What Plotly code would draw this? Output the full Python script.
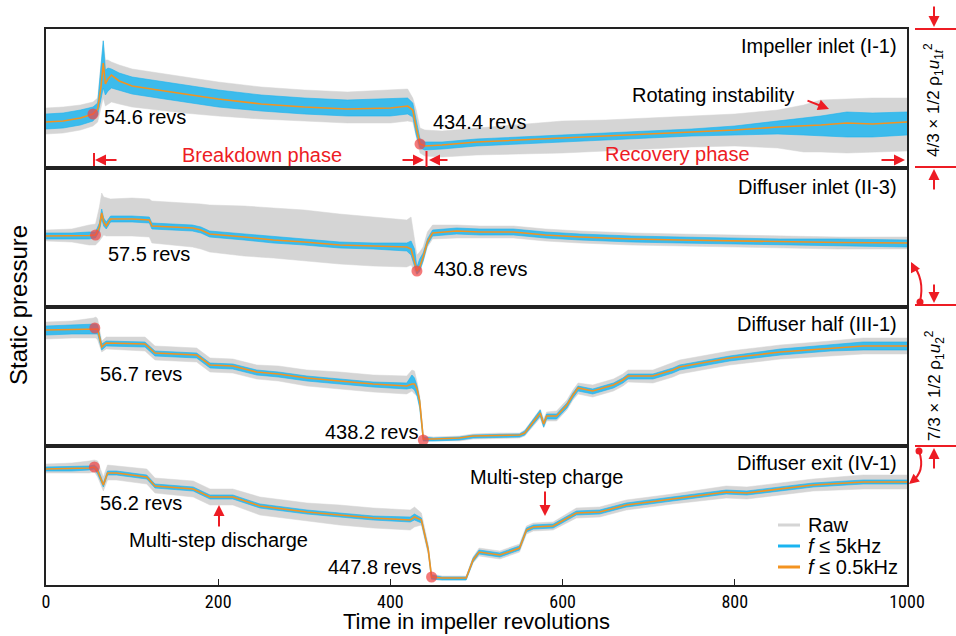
import plotly.graph_objects as go
from plotly.subplots import make_subplots

# ---------------- data (values = static pressure, arbitrary panel units) ----------------
# Panel 1: Impeller inlet (I-1)
p1_x = [0, 20, 40, 54.6, 60, 64, 66.5, 69, 72, 76, 85, 100, 130, 160, 200, 250, 300, 350, 400, 420,
        426, 430, 434.4, 440, 460, 500, 550, 600, 650, 700, 750, 800, 850, 880, 900, 930, 960, 1000]
p1_f05 = [46, 47, 50, 54, 59, 82, 105, 84, 89, 93, 87, 82, 78, 74, 69, 64, 61, 59, 60, 62,
          58, 40, 24, 22, 23, 26, 28, 30, 32, 34, 36, 38, 41, 42, 43, 45, 44, 46]
p1_f5_hi = [54, 55, 58, 61, 65, 100, 127, 98, 100, 99, 95, 91, 87, 83, 78, 73, 70, 68, 69, 70,
            65, 49, 29, 26, 26, 29, 31, 33, 35, 37, 39, 42, 47, 50, 52, 56, 55, 56]
p1_f5_lo = [39, 40, 43, 47, 53, 70, 80, 73, 77, 80, 78, 74, 70, 66, 61, 57, 54, 52, 52, 54,
            51, 33, 20, 18, 19, 22, 24, 26, 28, 30, 32, 33, 34, 33, 32, 31, 31, 33]
p1_raw_hi = [60, 61, 63, 66, 70, 105, 128, 108, 108, 106, 103, 99, 95, 91, 86, 81, 78, 76, 78, 79,
             70, 58, 40, 38, 37, 40, 43, 47, 48, 50, 52, 54, 58, 63, 68, 69, 70, 70]
p1_raw_lo = [34, 35, 38, 42, 46, 62, 70, 62, 64, 66, 64, 61, 58, 55, 52, 49, 47, 45, 45, 47,
             46, 30, 15, 12, 11, 13, 14, 15, 17, 19, 21, 22, 20, 16, 16, 15, 16, 17]
p1_evt_x = [54.6, 434.4]
p1_evt_y = [54, 24]

# Panel 2: Diffuser inlet (II-3)
p2_x = [0, 30, 50, 57.5, 62, 64.7, 67, 70, 75, 100, 120, 123, 170, 180, 190, 230, 264, 300, 341, 380,
        419, 424, 428, 430.8, 434, 438, 443, 449, 477, 504, 543, 580, 620, 680, 736, 800, 853, 920, 1000]
p2_f05 = [71, 71, 71.5, 72, 80, 94, 85, 81, 88, 88, 87, 81, 79, 77, 73, 70, 67, 65, 62, 61,
          60, 58, 45, 36, 40, 50, 65, 74, 76, 75, 75, 72, 70, 68, 67, 66, 65, 64.5, 64]
p2_f5_hi = [74, 74, 75, 75, 84, 98, 89, 85, 91, 91, 90, 84, 82, 80, 76, 73, 70, 68, 65, 64,
            64, 66, 58, 40, 48, 54, 68, 77, 79, 78, 78, 75, 73, 71, 70, 69, 68, 68, 67]
p2_f5_lo = [68, 68, 68, 69, 76, 88, 81, 78, 85, 85, 84, 78, 76, 74, 70, 67, 64, 62, 59, 58,
            56, 52, 40, 33, 36, 46, 62, 71, 73, 72, 72, 69, 67, 65, 64, 63, 62, 61, 60]
p2_raw_hi = [77, 78, 82, 83, 100, 114, 110, 109, 108, 109, 108, 106, 104, 103, 102, 101, 99, 97, 93, 90,
             87, 90, 70, 52, 55, 60, 75, 82, 82, 81, 81, 78, 76, 74, 73, 72, 71, 70, 70]
p2_raw_lo = [66, 65, 62, 62, 66, 70, 72, 71, 71, 71, 70, 64, 60, 58, 55, 51, 49, 46, 43, 41,
             40, 42, 36, 32, 35, 45, 60, 68, 69, 69, 69, 66, 64, 62, 61, 60, 59, 58, 58]
p2_evt_x = [57.5, 430.8]
p2_evt_y = [72, 36]

# Panel 3: Diffuser half (III-1)
p3_x = [0, 30, 55, 58, 60, 64.7, 70, 115, 126.6, 175, 190.5, 217, 244.7, 270, 303, 341, 380, 419, 425, 428,
        431, 434, 438.2, 450, 480, 496, 527, 550, 556, 566, 574, 578, 581.5, 593, 605, 612, 618, 635, 659, 670,
        676, 705, 728, 736, 794, 853, 911, 949, 1000]
p3_f05 = [116, 116.5, 117, 117.5, 117, 99, 103, 102, 93, 91, 81, 80, 74, 72, 68, 65, 62, 60, 62, 62,
          57, 45, 7, 7, 8, 10, 11, 11, 13, 24, 33, 22, 30, 30, 41, 51, 58, 55, 61, 66,
          70, 70, 76, 79, 88, 94, 98, 100, 100]
p3_f5_hi = [120, 121, 122, 122, 121, 102, 105, 104, 95, 93, 83, 82, 76, 74, 70, 67, 64, 63, 71, 68,
            60, 47, 9, 8, 9, 11, 12, 12, 15, 26, 36, 24, 32, 32, 43, 53, 60, 57, 63, 68,
            72, 72, 78, 81, 90, 97, 101, 104, 104]
p3_f5_lo = [111, 112, 112, 112, 112, 96, 100, 99, 90, 88, 78, 77, 71, 69, 65, 62, 59, 57, 58, 56,
            50, 38, 5, 5, 6, 8, 9, 9, 11, 21, 30, 19, 27, 27, 38, 48, 55, 52, 58, 63,
            67, 67, 73, 76, 85, 91, 95, 96, 96]
p3_raw_hi = [124, 125, 128, 129, 127, 105, 109, 109, 100, 98, 88, 87, 81, 80, 76, 74, 71, 70, 76, 75,
             64, 50, 10, 9, 10, 12, 13, 13, 16, 28, 37, 27, 34, 35, 46, 56, 63, 61, 67, 72,
             76, 76, 83, 86, 95, 101, 105, 108, 108]
p3_raw_lo = [107, 108, 108, 108, 106, 94, 97, 95, 86, 84, 74, 73, 67, 65, 60, 57, 54, 52, 55, 52,
             50, 40, 5, 5, 5, 7, 8, 8, 10, 20, 28, 18, 25, 25, 36, 46, 52, 49, 55, 60,
             64, 63, 69, 72, 81, 87, 90, 92, 92]
p3_evt_x = [56.7, 438.2]
p3_evt_y = [118, 6]

# Panel 4: Diffuser exit (IV-1)
p4_x = [0, 30, 50, 56.2, 60, 66.6, 71.5, 82, 117, 126.6, 171, 190.5, 217, 248.5, 303, 341, 380, 423, 428, 436,
        444, 447.8, 460, 488, 496, 503, 527, 550, 558, 566, 589, 616, 643, 674, 728, 790, 814, 891, 949, 1000]
p4_f05 = [116, 116.5, 117, 118, 114, 100, 112, 112, 108, 99, 96, 88, 88, 79, 73, 70, 67, 65, 68, 65,
          35, 8, 7, 7, 25, 33, 30, 37, 55, 58, 59, 72, 73, 80, 86, 93, 92, 100, 103, 103]
p4_f5_hi = [118, 119, 119, 120, 117, 102, 114, 114, 110, 101, 98, 90, 90, 81, 75, 72, 69, 68, 71, 67,
            37, 10, 8, 8, 27, 35, 32, 39, 57, 60, 61, 74, 75, 82, 88, 95, 94, 102, 105, 105]
p4_f5_lo = [114, 114, 115, 116, 111, 98, 110, 110, 106, 97, 94, 86, 86, 77, 71, 68, 65, 63, 65, 62,
            33, 6, 5, 5, 23, 31, 28, 35, 53, 56, 57, 70, 71, 78, 84, 91, 90, 98, 101, 101]
p4_raw_hi = [121, 122, 124, 125, 124, 108, 120, 119, 116, 107, 104, 96, 96, 88, 82, 80, 77, 75, 78, 72,
             40, 11, 9, 9, 28, 37, 34, 41, 59, 62, 63, 77, 78, 85, 91, 99, 98, 106, 110, 110]
p4_raw_lo = [112, 112, 112, 113, 108, 94, 105, 105, 101, 92, 88, 80, 80, 70, 64, 60, 57, 55, 58, 60,
             30, 5, 5, 5, 22, 29, 26, 33, 51, 54, 55, 67, 68, 75, 81, 87, 86, 94, 96, 96]
p4_evt_x = [56.2, 447.8]
p4_evt_y = [118, 8]

panel_titles = ["Impeller inlet (I-1)", "Diffuser inlet (II-3)", "Diffuser half (III-1)", "Diffuser exit (IV-1)"]
x_ticks = [0, 200, 400, 600, 800, 1000]
legend_labels = ["Raw", "<i>f</i> ≤ 5kHz", "<i>f</i> ≤ 0.5kHz"]
x_title = "Time in impeller revolutions"
y_title = "Static pressure"

# ---------------- figure ----------------
W, H = 956, 636
ML, MR, MT, MB = 46, 49, 29, 51
PW = W - ML - MR
PH = H - MT - MB


def PX(px):
    return (px - ML) / PW


def PY(py):
    return (H - MB - py) / PH


FONT = "Arial, Liberation Sans, sans-serif"
NARROW = "Liberation Sans Narrow, Arial Narrow, Roboto Condensed, Arial, sans-serif"
RED = "rgb(237,28,36)"
GRAY = "#d5d5d5"
BLUE = "#1ab4f0"
BLUE_FILL = "rgba(26,180,240,0.82)"
ORANGE = "#f39320"
DOT = "rgba(240,70,70,0.72)"

panels = [
    (p1_x, p1_raw_lo, p1_raw_hi, p1_f5_lo, p1_f5_hi, p1_f05, p1_evt_x, p1_evt_y),
    (p2_x, p2_raw_lo, p2_raw_hi, p2_f5_lo, p2_f5_hi, p2_f05, p2_evt_x, p2_evt_y),
    (p3_x, p3_raw_lo, p3_raw_hi, p3_f5_lo, p3_f5_hi, p3_f05, p3_evt_x, p3_evt_y),
    (p4_x, p4_raw_lo, p4_raw_hi, p4_f5_lo, p4_f5_hi, p4_f05, p4_evt_x, p4_evt_y),
]

fig = make_subplots(rows=4, cols=1, shared_xaxes=True, vertical_spacing=0)

for i, (x, rlo, rhi, blo, bhi, f05, ex, ey) in enumerate(panels, start=1):
    fig.add_trace(go.Scatter(x=x, y=rlo, mode="lines", line=dict(width=0.5, color=GRAY),
                             showlegend=False, hoverinfo="skip"), row=i, col=1)
    fig.add_trace(go.Scatter(x=x, y=rhi, mode="lines", line=dict(width=0.5, color=GRAY),
                             fill="tonexty", fillcolor=GRAY, showlegend=False, hoverinfo="skip"), row=i, col=1)
    fig.add_trace(go.Scatter(x=x, y=blo, mode="lines", line=dict(width=0.6, color=BLUE),
                             showlegend=False, hoverinfo="skip"), row=i, col=1)
    fig.add_trace(go.Scatter(x=x, y=bhi, mode="lines", line=dict(width=0.6, color=BLUE),
                             fill="tonexty", fillcolor=BLUE_FILL, showlegend=False, hoverinfo="skip"), row=i, col=1)
    fig.add_trace(go.Scatter(x=x, y=f05, mode="lines", line=dict(width=1.6, color=ORANGE),
                             showlegend=False, hoverinfo="skip"), row=i, col=1)
    fig.add_trace(go.Scatter(x=ex, y=ey, mode="markers", marker=dict(size=11, color=DOT),
                             showlegend=False, hoverinfo="skip"), row=i, col=1)
    fig.update_yaxes(range=[0, 139], showticklabels=False, showgrid=False, zeroline=False,
                     showline=True, mirror=True, linecolor="#222", linewidth=1.5, ticks="",
                     automargin=False, row=i, col=1)
    fig.update_xaxes(range=[0, 1000], showgrid=False, zeroline=False, showline=True, mirror=True,
                     linecolor="#222", linewidth=1.5, showticklabels=(i == 4),
                     ticks="inside" if i == 4 else "", ticklen=6, tickcolor="#222",
                     tickvals=x_ticks, automargin=False, row=i, col=1)

fig.update_xaxes(tickfont=dict(family=NARROW, size=18, color="black"), ticklabelstandoff=0,
                 row=4, col=1)

ann = []
shapes = []


def txt(s, px, py, size=20, anchor="left", color="black", angle=0):
    ann.append(dict(text=s, x=PX(px), y=PY(py), xref="paper", yref="paper", xanchor=anchor,
                    yanchor="middle", showarrow=False, textangle=angle,
                    font=dict(family=FONT, size=size, color=color)))


def arrow(hx, hy, tx, ty, width=2, size=1.1):
    ann.append(dict(text="", x=PX(hx), y=PY(hy), xref="paper", yref="paper", ax=tx - hx, ay=ty - hy,
                    showarrow=True, arrowhead=2, arrowsize=size, arrowwidth=width, arrowcolor=RED))


def seg(x0, y0, x1, y1, color=RED, width=2):
    shapes.append(dict(type="line", xref="paper", yref="paper", x0=PX(x0), y0=PY(y0), x1=PX(x1), y1=PY(y1),
                       line=dict(color=color, width=width)))


# axis titles
txt(x_title, 476, 621, size=22, anchor="center")
txt(y_title, 18, 305, size=24, anchor="center", angle=-90)

# panel titles
for t, py in zip(panel_titles, [46, 187, 324, 463]):
    txt(t, 899, py, anchor="right")

# event labels
txt("54.6 revs", 102, 117)
txt("434.4 revs", 431, 122)
txt("57.5 revs", 106, 254)
txt("430.8 revs", 432, 269)
txt("56.7 revs", 98, 374)
txt("438.2 revs", 420, 432, anchor="right")
txt("56.2 revs", 98, 503)
txt("447.8 revs", 423, 567, anchor="right")

# phase annotations
txt("Breakdown phase", 262, 155, color=RED, anchor="center")
txt("Recovery phase", 677, 154, color=RED, anchor="center")
seg(94, 153, 94, 166)
arrow(95, 160, 118, 160)
arrow(424, 160, 401, 160)
seg(426.5, 151, 426.5, 167)
arrow(429, 160, 449, 160)
arrow(905, 160, 880, 160)

txt("Rotating instability", 713, 95, anchor="center")
arrow(829, 109, 806, 100)

txt("Multi-step discharge", 218, 540, anchor="center")
arrow(219, 505, 219, 528)
txt("Multi-step charge", 546, 477, anchor="center")
arrow(545, 516, 545, 490)

# legend
for lab, col, py in zip(legend_labels, [GRAY, BLUE, ORANGE], [525, 546, 567]):
    seg(778, py, 800, py, color=col, width=3)
    txt(lab, 806, py)

# right-side scale brackets
for py in [29, 167, 305, 446]:
    seg(915, py, 956, py)
arrow(934, 27, 934, 5)
arrow(934, 169, 934, 191)
arrow(934, 303, 934, 283)
arrow(934, 448, 934, 470)
txt("4/3 × 1/2 ρ<sub>1</sub><i>u</i><sub>1<i>t</i></sub><sup>2</sup>", 934, 100, size=17,
    anchor="center", angle=-90)
txt("7/3 × 1/2 ρ<sub>1</sub><i>u</i><sub>2</sub><sup>2</sup>", 934, 386, size=17,
    anchor="center", angle=-90)

# curved arrows linking scales
shapes.append(dict(type="path", xref="paper", yref="paper",
                   path=f"M {PX(920)},{PY(302)} Q {PX(925)},{PY(278)} {PX(912)},{PY(264)}",
                   line=dict(color=RED, width=2)))
arrow(911, 262, 915, 270, size=1.0)
shapes.append(dict(type="circle", xref="paper", yref="paper", x0=PX(916.5), x1=PX(923.5),
                   y0=PY(298.5), y1=PY(305.5), fillcolor=RED, line=dict(width=0)))
shapes.append(dict(type="path", xref="paper", yref="paper",
                   path=f"M {PX(919)},{PY(451)} Q {PX(926)},{PY(472)} {PX(911)},{PY(482)}",
                   line=dict(color=RED, width=2)))
arrow(909, 484, 915, 479, size=1.0)
shapes.append(dict(type="circle", xref="paper", yref="paper", x0=PX(915.5), x1=PX(922.5),
                   y0=PY(447.5), y1=PY(454.5), fillcolor=RED, line=dict(width=0)))

fig.update_layout(width=W, height=H, margin=dict(l=ML, r=MR, t=MT, b=MB, autoexpand=False),
                  paper_bgcolor="white", plot_bgcolor="white", showlegend=False,
                  font=dict(family=FONT, color="black"), annotations=ann, shapes=shapes)

fig.write_html("out.html")
